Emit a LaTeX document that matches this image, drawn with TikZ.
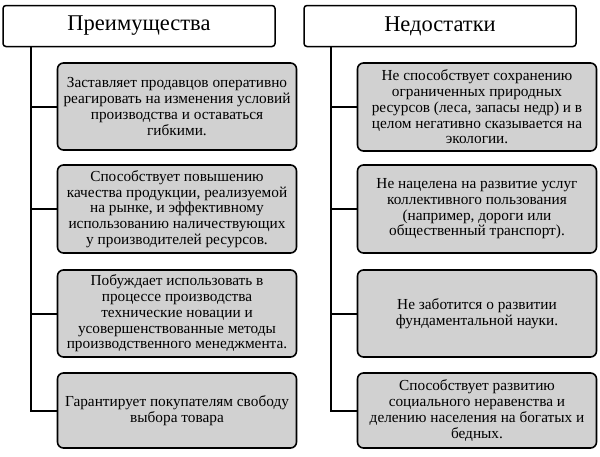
\documentclass[tikz,border=0pt]{standalone}
\usepackage{fontspec}
\setmainfont{Liberation Serif}
\begin{document}
\begin{tikzpicture}[x=1pt, y=-1pt,
  head/.style={draw, line width=1.5pt, rounded corners=3pt, fill=white,
    minimum width=272pt, minimum height=41pt, font=\fontsize{22.5}{26}\selectfont},
  item/.style={draw, line width=1.6pt, rounded corners=6pt, fill=black!18,
    minimum width=239pt, align=center, inner sep=1pt,
    font=\fontsize{15.3}{15.7}\selectfont},
  link/.style={line width=2pt}]
  \useasboundingbox (0,0) rectangle (600,456);
  % заголовки
  \node [head] (hl) at (139,26) {Преимущества};
  \node [head] (hr) at (440,26) {Недостатки};
  \coordinate (tl) at ([xshift=29pt]hl.south west);
  \coordinate (tr) at ([xshift=28pt]hr.south west);
  % блоки слева
  \node [item, minimum height=87pt] (l1) at (177,106.5)
    {Заставляет продавцов оперативно\\реагировать на изменения условий\\производства и оставаться\\гибкими.};
  \node [item, minimum height=88pt] (l2) at (177,209)
    {Способствует повышению\\качества продукции, реализуемой\\на рынке, и эффективному\\использованию наличествующих\\у производителей ресурсов.};
  \node [item, minimum height=87pt] (l3) at (177,313.5)
    {Побуждает использовать в\\процессе производства\\технические новации и\\усовершенствованные методы\\производственного менеджмента.};
  \node [item, minimum height=75pt] (l4) at (177,410.5)
    {Гарантирует покупателям свободу\\выбора товара};
  % блоки справа
  \node [item, minimum height=88pt] (r1) at (477,107)
    {Не способствует сохранению\\ограниченных природных\\ресурсов (леса, запасы недр) и в\\целом негативно сказывается на\\экологии.};
  \node [item, minimum height=88pt] (r2) at (477,209)
    {Не нацелена на развитие услуг\\коллективного пользования\\(например, дороги или\\общественный транспорт).};
  \node [item, minimum height=87pt] (r3) at (477,313.5)
    {Не заботится о развитии\\фундаментальной науки.};
  \node [item, minimum height=75pt] (r4) at (477,410.5)
    {Способствует развитию\\социального неравенства и\\делению населения на богатых и\\бедных.};
  % линии
  \draw [link] (tl) |- (l4.west);
  \draw [link] (tr) |- (r4.west);
  \foreach \n in {l1,l2,l3} \draw [link] (\n.west -| tl) -- (\n.west);
  \foreach \n in {r1,r2,r3} \draw [link] (\n.west -| tr) -- (\n.west);
\end{tikzpicture}
\end{document}
